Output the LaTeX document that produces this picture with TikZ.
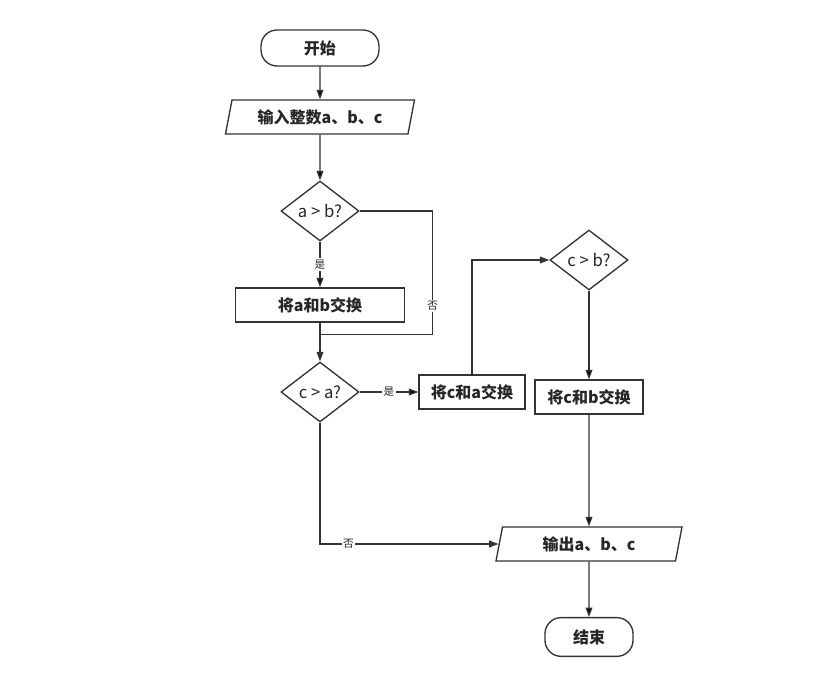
\documentclass[tikz,border=0pt]{standalone}
\usepackage{fontspec}
\setmainfont{Noto Sans CJK SC}
\usetikzlibrary{shapes.geometric,arrows.meta,positioning}

\begin{document}
\begin{tikzpicture}[on grid,
  line/.style={draw=black!80,line width=1pt},
  term/.style={line,rectangle,rounded corners=12pt,minimum height=27pt,text=black!85,font=\bfseries\fontsize{12}{14}\selectfont},
  io/.style={line,trapezium,trapezium left angle=75,trapezium right angle=105,trapezium stretches body,minimum height=25.5pt,text=black!85,font=\bfseries\fontsize{12}{14}\selectfont},
  proc/.style={line,rectangle,minimum height=25.5pt,text=black!85,font=\bfseries\fontsize{12}{14}\selectfont},
  dec/.style={line,diamond,minimum width=58.5pt,minimum height=45pt,inner sep=0pt,text=black!85,font=\fontsize{12.5}{14}\selectfont},
  lbl/.style={fill=white,inner sep=1pt,text=black!85,font=\fontsize{8}{9}\selectfont},
  >={Triangle[length=7pt,width=5pt]}]
\useasboundingbox (-240pt,36pt) rectangle (381.75pt,-468.75pt);

\node[term,minimum width=88.5pt] (start) {开始};
\node[io,minimum width=141.75pt,below=51.75pt of start] (in) {输入整数a、b、c};
\node[dec,below=70.5pt of in] (ab) {a > b?};
\node[proc,minimum width=126.75pt,below=70.5pt of ab] (swab) {将a和b交换};
\node[dec,below=65.25pt of swab] (ca) {c > a?};
\node[proc,minimum width=79.5pt,right=114pt of ca] (swca) {将c和a交换};
\node[dec,above right=99pt and 87.75pt of swca] (cb) {c > b?};
\node[proc,minimum width=81pt,below=102.75pt of cb] (swcb) {将c和b交换};
\node[io,minimum width=139.5pt,below=110.25pt of swcb] (out) {输出a、b、c};
\node[term,minimum width=66pt,minimum height=29pt,below=69.75pt of out] (stop) {结束};

\coordinate[below=9pt of swab.south] (join);
\coordinate[right=54.75pt of ab.east] (abr);

\path[line,->] (start) edge (in)
               (in) edge (ab)
               (ab) edge node[lbl] {是} (swab)
               (ca) edge node[lbl] {是} (swca)
               (cb) edge (swcb)
               (swcb) edge (out)
               (out) edge (stop);
\draw[line] (swab.south) -- (join);
\draw[line,->] (join) -- (ca.north);
\draw[line] (ab.east) -- (abr) -- node[lbl,pos=0.77] {否} (abr |- join) -- (join);
\draw[line,->] (swca) |- (cb);
\draw[line,->] (ca) |- node[lbl,pos=0.58] {否} (out);
\end{tikzpicture}
\end{document}
